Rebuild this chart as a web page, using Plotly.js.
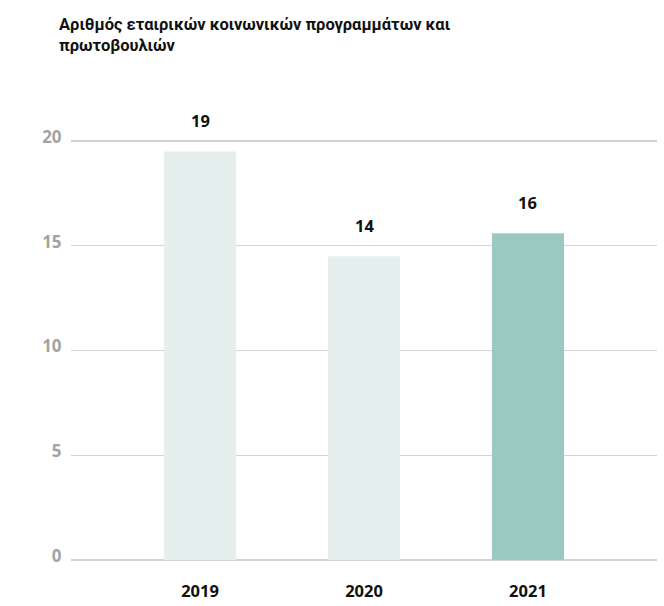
<!DOCTYPE html>
<html>
<head>
<meta charset="utf-8">
<script src="https://cdn.plot.ly/plotly-3.0.1.min.js"></script>
<style>html,body{margin:0;padding:0;background:#fff;}#chart{width:664px;height:606px;}</style>
</head>
<body>
<div id="chart"></div>
<script>
const categories = ['2019', '2020', '2021'];
const barHeights = [19.5, 14.5, 15.6];
const valueLabels = ['19', '14', '16'];
const barColors = ['#e5f0ee', '#e5f0ee', '#9cc8c2'];
const yTickVals = [0, 5, 10, 15, 20];
const titleText = 'Αριθμός εταιρικών κοινωνικών προγραμμάτων και<br>πρωτοβουλιών';

const trace = {
  type: 'bar',
  x: categories,
  y: barHeights,
  marker: {color: barColors, line: {width: 0}},
  width: 0.44,
  hoverinfo: 'none'
};

const annotations = categories.map((c, i) => ({
  x: i, y: barHeights[i], xref: 'x', yref: 'y',
  text: '<b>' + valueLabels[i] + '</b>',
  showarrow: false, yanchor: 'bottom', yshift: 17,
  font: {family: '"Open Sans", sans-serif', size: 16.5, color: '#111111'}
}));

const plotTop = 137, plotH = 423;
annotations.push({
  xref: 'paper', yref: 'paper',
  x: (57 - 71) / 586, y: 1 + (plotTop - 13) / plotH,
  xanchor: 'left', yanchor: 'top', align: 'left',
  showarrow: false,
  text: '<b>' + titleText + '</b>',
  font: {family: 'Roboto, sans-serif', size: 16.5, color: '#111111'}
});

const layout = {
  width: 664, height: 606,
  margin: {l: 71, r: 7, t: plotTop, b: 606 - plotTop - plotH},
  paper_bgcolor: '#ffffff', plot_bgcolor: '#ffffff',
  showlegend: false,
  xaxis: {
    type: 'category',
    range: [-0.787, 2.787],
    showgrid: false, zeroline: false, showline: false,
    ticks: 'outside', ticklen: 16, tickcolor: 'rgba(0,0,0,0)',
    tickfont: {family: '"Open Sans", sans-serif', size: 16.5, color: '#111111', weight: 'bold'},
    fixedrange: true
  },
  yaxis: {
    range: [0, 20.19],
    tickvals: yTickVals,
    showgrid: true, gridcolor: '#d3d3d3', gridwidth: 1.5,
    zeroline: true, zerolinecolor: '#d3d3d3', zerolinewidth: 1.5,
    showline: false,
    ticks: 'outside', ticklen: 5, tickcolor: 'rgba(0,0,0,0)',
    ticklabelshift: -4,
    tickfont: {family: '"Open Sans", sans-serif', size: 17, color: '#a3a3a3', weight: 'bold'},
    fixedrange: true
  },
  annotations: annotations
};

Plotly.newPlot('chart', [trace], layout, {displayModeBar: false, staticPlot: true})
  .catch(e => { document.body.insertAdjacentText('beforeend', String(e)); });
</script>
</body>
</html>
